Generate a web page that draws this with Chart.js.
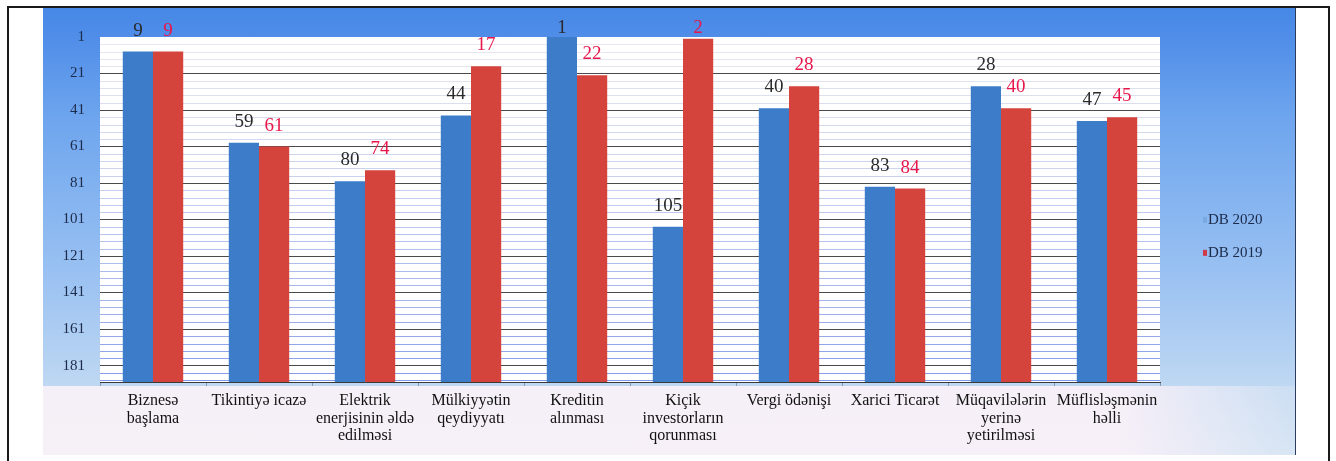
<!DOCTYPE html>
<html>
<head>
<meta charset="utf-8">
<title>Doing Business 2020 / 2019</title>
<script src="https://cdn.jsdelivr.net/npm/chart.js"></script>
<style>
  html, body { margin: 0; padding: 0; background: #fff; }
  body { width: 1336px; height: 461px; overflow: hidden; position: relative; }
  #frame {
    position: absolute; left: 7px; top: 6px; width: 1323px; height: 470px;
    border: 2px solid #1a1a1a; box-sizing: border-box;
  }
  #panel {
    position: absolute; left: 43px; top: 8px; width: 1252px; height: 447px;
    background: linear-gradient(180deg, #4788e6 0px, #4f8de8 28px, #6ea5ee 110px, #98c0f2 260px, #bcd6f2 370px, #d8e6f4 447px);
    border-right: 1px solid #2c3c5c;
  }
  #wash {
    position: absolute; left: 0; top: 378px; width: 100%; height: 69px;
    background: linear-gradient(90deg, rgba(247,240,247,0.96) 0%, rgba(248,240,248,0.96) 86%, rgba(214,228,244,0.5) 100%);
  }
  #chart { position: absolute; left: 0; top: 0; }
</style>
</head>
<body>
<div id="frame"></div>
<div id="panel">
  <div id="wash"></div>
  <canvas id="chart" width="1252" height="447"></canvas>
</div>
<script>
  // categories and values (ranks)
  var categories = [
    ["Biznesə", "başlama"],
    "Tikintiyə icazə",
    ["Elektrik", "enerjisinin əldə", "edilməsi"],
    ["Mülkiyyətin", "qeydiyyatı"],
    ["Kreditin", "alınması"],
    ["Kiçik", "investorların", "qorunması"],
    "Vergi ödənişi",
    "Xarici Ticarət",
    ["Müqavilələrin", "yerinə", "yetirilməsi"],
    ["Müflisləşmənin", "həlli"]
  ];
  var db2020 = [9, 59, 80, 44, 1, 105, 40, 83, 28, 47];
  var db2019 = [9, 61, 74, 17, 22, 2, 28, 84, 40, 45];
  var yTicks = [1, 21, 41, 61, 81, 101, 121, 141, 161, 181];
  var yMin = 1;
  var yMax = 190;

  // white plot area
  var plotBg = {
    id: "plotBg",
    beforeDraw: function (chart) {
      var a = chart.chartArea, ctx = chart.ctx;
      ctx.save();
      ctx.fillStyle = "#ffffff";
      ctx.fillRect(a.left, a.top, a.right - a.left, a.bottom - a.top);
      ctx.restore();
    }
  };

  // thin striped minor lines
  var minorGrid = {
    id: "minorGrid",
    beforeDatasetsDraw: function (chart) {
      var a = chart.chartArea, ctx = chart.ctx, y = chart.scales.y;
      var g = ctx.createLinearGradient(0, a.top, 0, a.bottom);
      g.addColorStop(0, "rgba(190,190,210,0.35)");
      g.addColorStop(0.5, "rgba(140,160,225,0.55)");
      g.addColorStop(1, "rgba(90,120,225,0.75)");
      ctx.save();
      ctx.strokeStyle = g;
      ctx.lineWidth = 1;
      for (var v = yMin; v < yMax; v += 4) {
        if ((v - 1) % 20 === 0) continue;
        var py = Math.round(y.getPixelForValue(v)) + 0.5;
        ctx.beginPath();
        ctx.moveTo(a.left, py);
        ctx.lineTo(a.right, py);
        ctx.stroke();
      }
      ctx.restore();
    }
  };

  // value labels above the bars (kept inside the chart like Excel does)
  var barLabels = {
    id: "barLabels",
    afterDatasetsDraw: function (chart) {
      var ctx = chart.ctx;
      chart.data.datasets.forEach(function (ds, i) {
        var meta = chart.getDatasetMeta(i);
        meta.data.forEach(function (bar, j) {
          ctx.save();
          ctx.font = '19px "Liberation Serif"';
          ctx.fillStyle = ds.labelColor;
          ctx.textAlign = "center";
          ctx.textBaseline = "alphabetic";
          ctx.fillText(ds.data[j], bar.x, Math.max(bar.y - 16, 25));
          ctx.restore();
        });
      });
    }
  };

  // legend at the right
  var sideLegend = {
    id: "sideLegend",
    afterDraw: function (chart) {
      var a = chart.chartArea, ctx = chart.ctx;
      var x = a.right + 43;
      var y0 = a.top + (a.bottom - a.top) * 0.53;
      chart.data.datasets.forEach(function (ds, i) {
        var y = y0 + i * 33;
        ctx.save();
        ctx.fillStyle = ds.markerColor;
        ctx.fillRect(x, y - 3, 4, 6);
        ctx.font = '15px "Liberation Serif"';
        ctx.fillStyle = "#1a2a48";
        ctx.textBaseline = "middle";
        ctx.fillText(ds.label, x + 5, y);
        ctx.restore();
      });
    }
  };

  var ctx = document.getElementById("chart").getContext("2d");
  var myChart = new Chart(ctx, {
    type: "bar",
    data: {
      labels: categories,
      datasets: [
        {
          label: "DB 2020",
          data: db2020,
          base: yMax,
          backgroundColor: "#3d7cc8",
          labelColor: "#2a2a2a",
          markerColor: "#7aa8e0"
        },
        {
          label: "DB 2019",
          data: db2019,
          base: yMax,
          backgroundColor: "#d4443c",
          labelColor: "#e8164a",
          markerColor: "#d03a48"
        }
      ]
    },
    options: {
      responsive: false,
      animation: false,
      layout: { padding: { top: 29, right: 135, left: 0, bottom: 0 } },
      datasets: { bar: { categoryPercentage: 0.57, barPercentage: 1.0 } },
      plugins: {
        legend: { display: false },
        tooltip: { enabled: false }
      },
      scales: {
        x: {
          grid: { drawOnChartArea: false, tickLength: 4, color: "#8a96aa" },
          border: { display: true, color: "#3a3a3a", width: 1 },
          ticks: {
            color: "#111111",
            padding: 6,
            maxRotation: 0,
            autoSkip: false,
            font: { family: "Liberation Serif", size: 16, lineHeight: 1.1 }
          },
          afterFit: function (s) { s.height = 73; }
        },
        y: {
          reverse: true,
          min: yMin,
          max: yMax,
          afterBuildTicks: function (s) {
            s.ticks = yTicks.map(function (v) { return { value: v }; });
          },
          afterFit: function (s) { s.width = 57; },
          grid: {
            drawTicks: false,
            color: function (c) { return c.tick && c.tick.value === yMin ? "rgba(0,0,0,0)" : "#4a4a4a"; }
          },
          border: { display: false },
          ticks: {
            padding: 15,
            color: "#1d2b4a",
            font: { family: "Liberation Serif", size: 15 }
          }
        }
      }
    },
    plugins: [plotBg, minorGrid, barLabels, sideLegend]
  });
</script>
</body>
</html>
